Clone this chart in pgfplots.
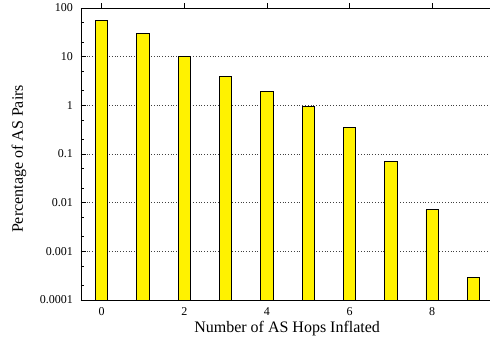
\documentclass[border=0pt]{standalone}
\usepackage{fontspec}
\setmainfont{Liberation Serif}
\usepackage{pgfplots}
\pgfplotsset{compat=1.18}
\begin{document}
\begin{tikzpicture}
\begin{axis}[
  scale only axis,
  width=409pt, height=292pt,
  xmin=-0.5, xmax=9.4,
  ymode=log, ymin=1e-4, ymax=100,
  log origin=infty,
  axis x line*=box, axis y line*=left,
  xtick={0,2,4,6,8},
  xtick pos=right, xticklabel pos=left,
  xticklabels={0,2,4,6,8},
  ytick={1e-4,1e-3,1e-2,1e-1,1,10,100},
  yticklabels={0.0001,0.001,0.01,0.1,1,10,100},
  minor ytick={2e-4,5e-4,2e-3,5e-3,2e-2,5e-2,0.2,0.5,2,5,20,50},
  tick align=inside,
  major tick length=5pt, minor tick length=3pt,
  tick style={black, line width=0.6pt},
  axis line style={black, line width=0.8pt},
  ymajorgrids,
  major grid style={black!75, line width=0.7pt, dash pattern=on 0.8pt off 2pt},
  xticklabel style={font=\fontsize{12}{14}\selectfont, anchor=base, inner sep=0pt, yshift=-10.5pt},
  yticklabel style={font=\fontsize{12}{14}\selectfont, anchor=east, inner sep=0pt, xshift=-8pt},
  xlabel={Number of AS Hops Inflated},
  ylabel={Percentage of AS Pairs},
  xlabel style={font=\fontsize{16}{19}\selectfont, at={(axis description cs:0.504,0)}, anchor=base, inner sep=0pt, yshift=-32pt},
  ylabel style={font=\fontsize{16}{19}\selectfont, at={(axis description cs:-0.1516,0.483)}, anchor=center, inner sep=0pt},
  ybar, bar width=0.3,
]
\addplot[fill=yellow, draw=black, line width=0.8pt] coordinates {
(0,55.8) (1,30) (2,10.1) (3,3.9) (4,1.93) (5,0.95) (6,0.35) (7,0.069) (8,0.0072) (9,0.00029)
};
\end{axis}
\pgfresetboundingbox
\useasboundingbox (-81pt,-38pt) rectangle (409pt,300pt);
\end{tikzpicture}
\end{document}
